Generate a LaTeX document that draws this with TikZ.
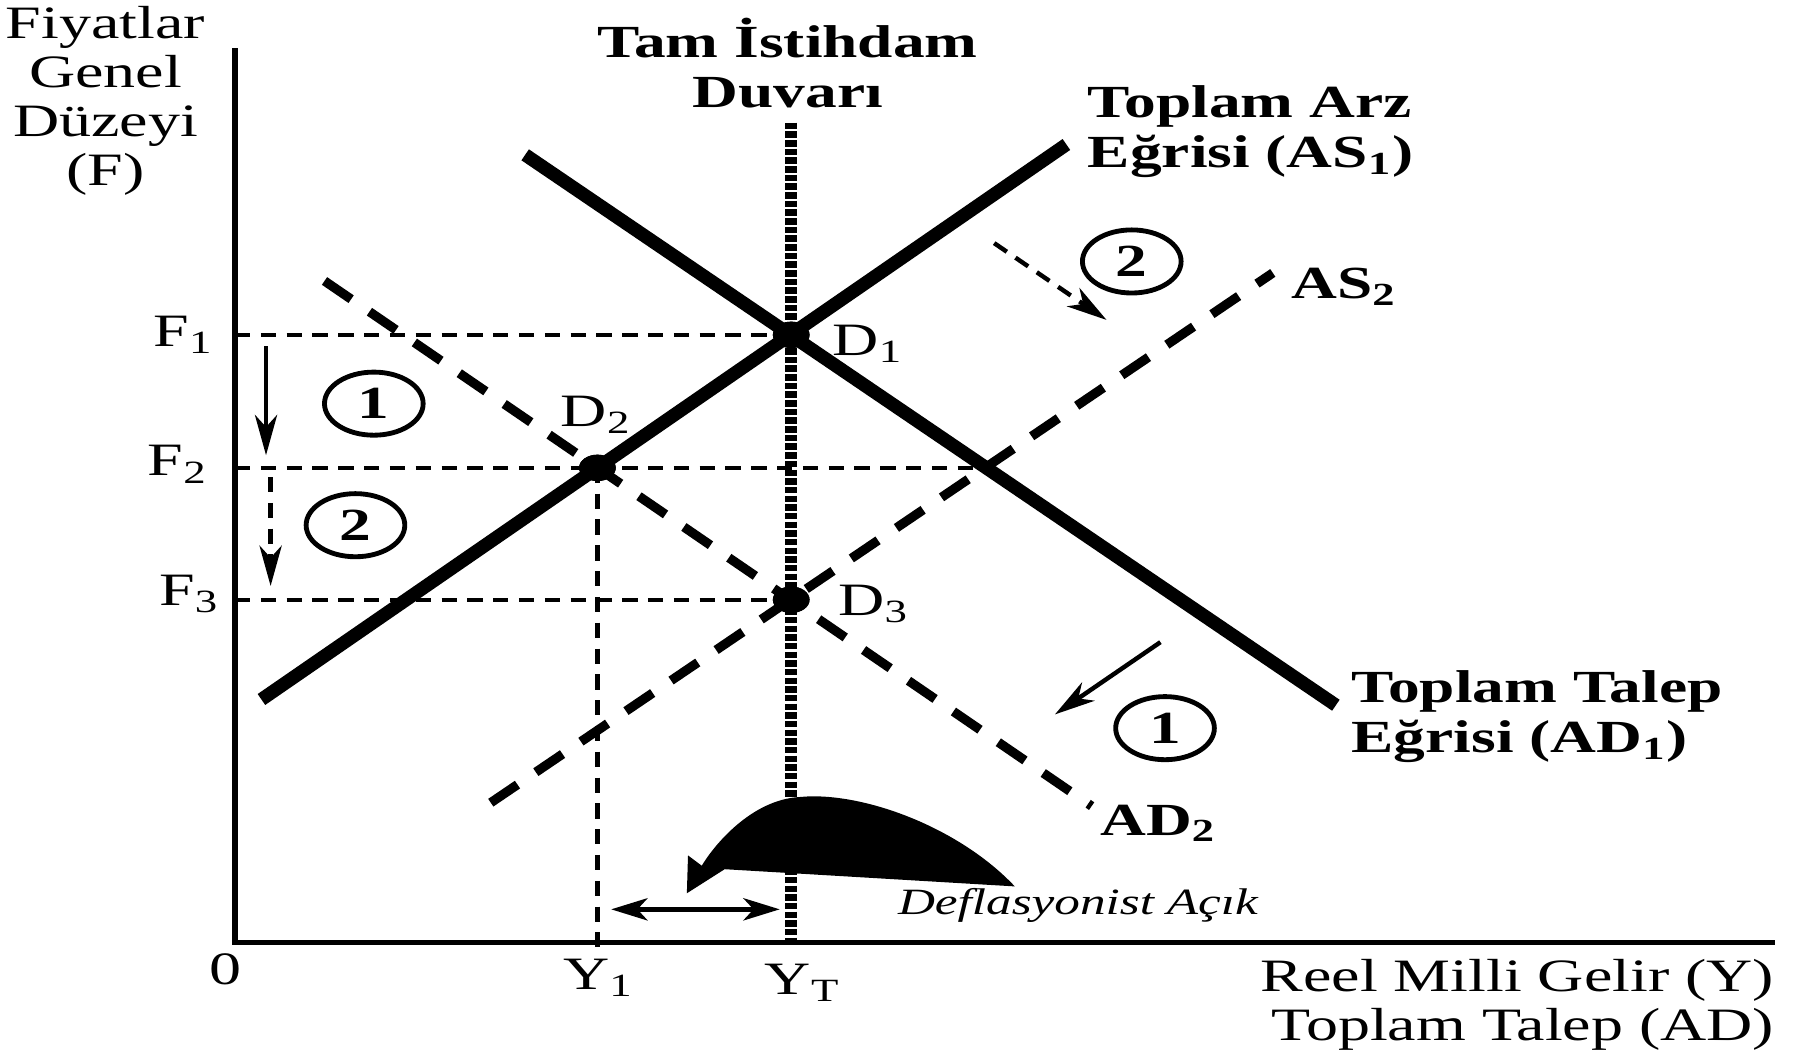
\documentclass[tikz,border=0pt]{standalone}
\usepackage{fontspec}
\setmainfont{Liberation Serif}[FakeStretch=1.38]
\usetikzlibrary{arrows.meta,shapes.geometric}

\begin{document}
\begin{tikzpicture}[x=0.01cm, y=-0.01cm,
    lbl/.style={font=\fontsize{11.5}{12.2}\selectfont, inner sep=0pt, align=center},
    blbl/.style={font=\fontsize{11.4}{12.5}\selectfont\bfseries, inner sep=0pt, align=left},
    axis/.style={line width=1.4pt},
    guide/.style={line width=1.1pt, dash pattern=on 3.8pt off 2.6pt},
    curve/.style={line width=3.3pt},
    shifted/.style={line width=2.3pt, dash pattern=on 8pt off 5.5pt},
    wall/.style={line width=3pt, dash pattern=on 1.6pt off 0.55pt},
    dot/.style={ellipse, fill, inner sep=0pt, minimum width=0.32cm, minimum height=0.23cm},
    num/.style={ellipse, draw, line width=1.2pt, inner sep=0pt, minimum width=0.86cm, minimum height=0.55cm, font=\fontsize{11.4}{12}\selectfont\bfseries},
    arr/.style={-{Stealth[length=10pt, width=5.5pt, inset=3pt]}, line width=1.1pt},
    gap/.style={{Stealth[length=9pt, width=5.5pt, inset=2.5pt]}-{Stealth[length=9pt, width=5.5pt, inset=2.5pt]}, line width=1.2pt},
]
    \useasboundingbox (0,0) rectangle (1568,920);

    % axes
    \coordinate (ytop) at (205,42);
    \coordinate (O) at (205,822);
    \coordinate (xend) at (1548,822);
    \draw[axis] (ytop) -- (O) -- (xend);

    % equilibrium points
    \node[dot] (D1) at (690,292) {};
    \node[dot] (D2) at (521,408) {};
    \node[dot] (D3) at (690,523) {};

    % price and income guides
    \coordinate (f1) at (205,292);
    \coordinate (f2) at (205,408);
    \coordinate (f2end) at (860,408);
    \coordinate (f3) at (205,523);
    \coordinate (y1) at (521,826);
    \draw[guide] (f1) -- (D1.center);
    \draw[guide] (f2) -- (f2end);
    \draw[guide] (f3) -- (D3.center);
    \draw[guide] (D2.center) -- (y1);

    % full employment wall
    \coordinate (wtop) at (690,107);
    \coordinate (yT) at (690,822);
    \draw[wall] (wtop) -- (yT);

    % curves
    \coordinate (as1a) at (228,610);
    \coordinate (as1b) at (930,126);
    \coordinate (ad1a) at (458,135);
    \coordinate (ad1b) at (1165,615);
    \coordinate (ad2a) at (283,245);
    \coordinate (ad2b) at (952,703);
    \coordinate (as2a) at (428,700);
    \coordinate (as2b) at (1110,238);
    \draw[shifted] (ad2a) -- (ad2b);
    \draw[shifted] (as2a) -- (as2b);
    \draw[curve] (as1a) -- (as1b);
    \draw[curve] (ad1a) -- (ad1b);

    \node[dot] at (D1) {};
    \node[dot] at (D2) {};
    \node[dot] at (D3) {};

    % deflationary gap arrow
    \fill (885,773) -- (632,758) -- (599,779) -- (600,746) -- (612,755)
        .. controls (622,738) and (655,697) .. (698,695)
        .. controls (750,690) and (835,720) .. (885,773) -- cycle;
    \coordinate (ga) at (533,793);
    \coordinate (gb) at (680,793);
    \draw[gap] (ga) -- (gb);

    % shift arrows
    \coordinate (a1s) at (232,302);
    \coordinate (a1e) at (232,397);
    \coordinate (a2s) at (236,416);
    \coordinate (a2e) at (236,511);
    \coordinate (a3s) at (867,212);
    \coordinate (a3e) at (965,279);
    \coordinate (a4s) at (1012,560);
    \coordinate (a4e) at (920,623);
    \draw[arr] (a1s) -- (a1e);
    \draw[arr, dash pattern=on 3.8pt off 2.6pt] (a2s) -- (a2e);
    \draw[arr, dash pattern=on 3.8pt off 2.6pt] (a3s) -- (a3e);
    \draw[arr] (a4s) -- (a4e);

    \node[num] (n1) at (326,352) {1};
    \node[num] (n2) at (310,458) {2};
    \node[num] (n2b) at (987,228) {2};
    \node[num] (n1b) at (1016,635) {1};

    % labels
    \node[lbl] (yl) at (92,88) {Fiyatlar\\Genel\\Düzeyi\\(F)};
    \node[blbl, align=center] (wl) at (687,55) {Tam İstihdam\\Duvarı};
    \node[blbl, anchor=west] (asl) at (948,115) {Toplam Arz\\Eğrisi (AS\textsubscript{1})};
    \node[blbl, anchor=west] (adl) at (1178,625) {Toplam Talep\\Eğrisi (AD\textsubscript{1})};
    \node[blbl] (as2l) at (1172,250) {AS\textsubscript{2}};
    \node[blbl] (ad2l) at (1010,718) {AD\textsubscript{2}};
    \node[lbl, align=right, anchor=east] (xl) at (1548,876) {Reel Milli Gelir (Y)\\Toplam Talep (AD)};
    \node[lbl] (zero) at (197,845) {0};
    \node[lbl] (y1l) at (522,853) {Y\textsubscript{1}};
    \node[lbl] (yTl) at (700,857) {Y\textsubscript{T}};
    \node[lbl] (f1l) at (160,292) {F\textsubscript{1}};
    \node[lbl] (f2l) at (155,405) {F\textsubscript{2}};
    \node[lbl] (f3l) at (165,518) {F\textsubscript{3}};
    \node[lbl] (d1l) at (757,300) {D\textsubscript{1}};
    \node[lbl] (d2l) at (520,362) {D\textsubscript{2}};
    \node[lbl] (d3l) at (762,527) {D\textsubscript{3}};
    \node[font=\fontsize{9.2}{11}\selectfont\itshape, inner sep=0pt] (gl) at (940,790) {Deflasyonist Açık};
\end{tikzpicture}
\end{document}
